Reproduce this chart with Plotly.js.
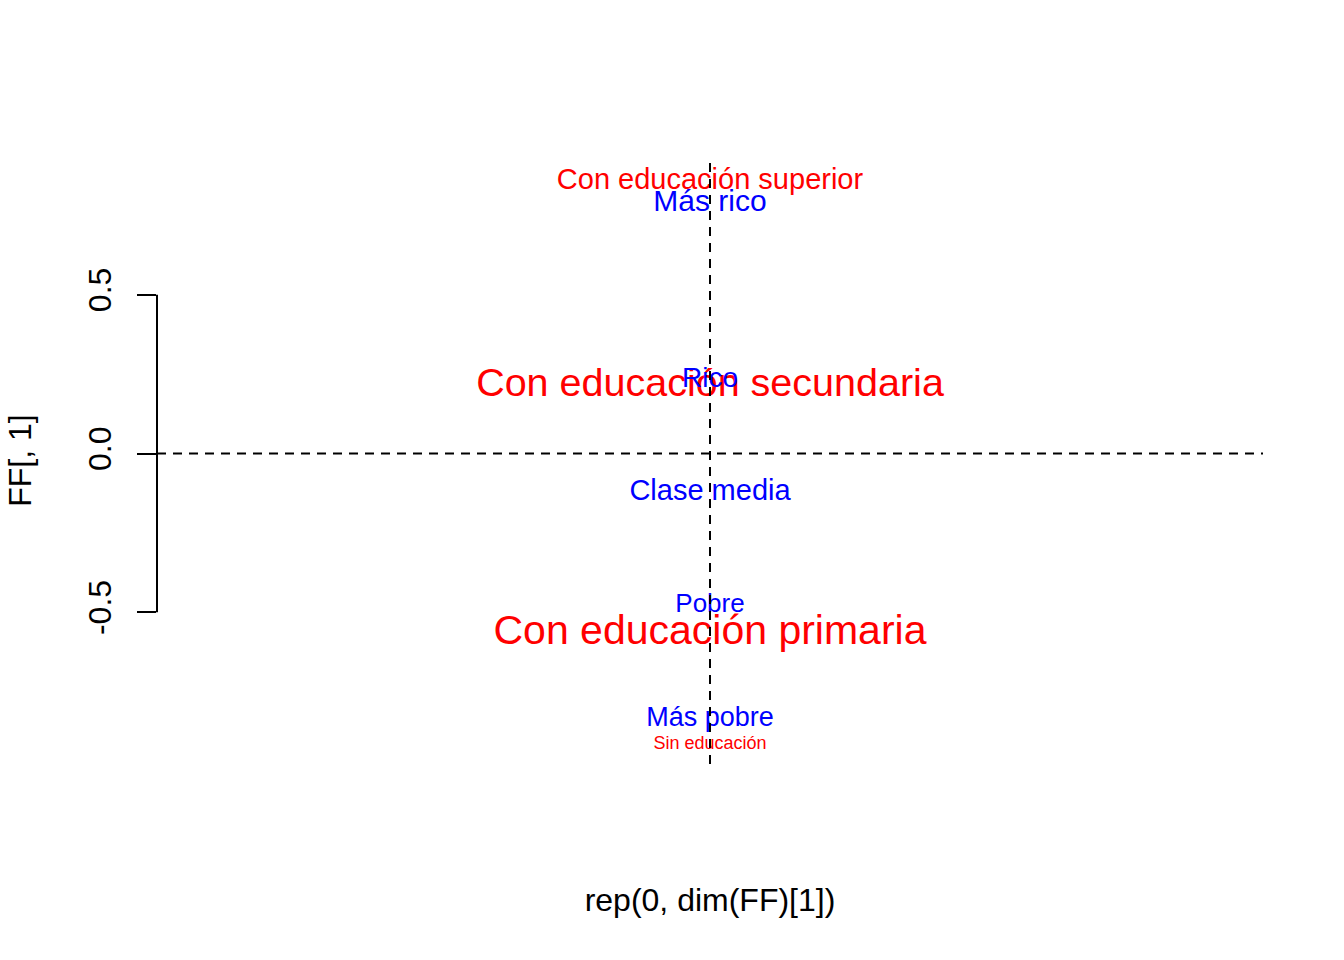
<!DOCTYPE html>
<html>
<head>
<meta charset="utf-8">
<script src="https://cdn.plot.ly/plotly-3.0.1.min.js"></script>
<style>
  html, body { margin: 0; padding: 0; background: #ffffff; }
  #chart { width: 1344px; height: 960px; }
</style>
</head>
<body>
<div id="chart"></div>
<script>
// ---- data ----
const colLabels = ["Con educación superior", "Con educación secundaria", "Con educación primaria", "Sin educación"];
const colY = [0.855, 0.211, -0.566, -0.917];
const rowLabels = ["Más rico", "Rico", "Clase media", "Pobre", "Más pobre"];
const rowY = [0.786, 0.233, -0.124, -0.480, -0.838];
const tickVals = [-0.5, 0, 0.5];
const tickText = ["-0.5", "0.0", "0.5"];
const xTitle = "rep(0, dim(FF)[1])";
const yTitle = "FF[, 1]";

// ---- styles ----
const FONT = "Liberation Sans, Arial, Helvetica, sans-serif";
const colSizes = [29, 39.5, 41, 18];
const rowSizes = [30, 28, 29, 26, 27];

const colX = colLabels.map(() => 0);
const rowX = rowLabels.map(() => 0);

const traces = [
  {
    type: "scatter", mode: "text",
    x: colX, y: colY, text: colLabels,
    textposition: "middle center",
    textfont: { family: FONT, color: "#ff0000", size: colSizes },
    hoverinfo: "skip", showlegend: false, cliponaxis: false
  },
  {
    type: "scatter", mode: "text",
    x: rowX, y: rowY, text: rowLabels,
    textposition: "middle center",
    textfont: { family: FONT, color: "#0000ff", size: rowSizes },
    hoverinfo: "skip", showlegend: false, cliponaxis: false
  }
];

const dashStyle = { color: "#000000", width: 2, dash: "9px,7px" };

const layout = {
  width: 1344, height: 960,
  margin: { l: 157, r: 81, t: 157, b: 196, pad: 0 },
  paper_bgcolor: "#ffffff", plot_bgcolor: "#ffffff",
  font: { family: FONT, color: "#000000", size: 32 },
  showlegend: false,
  xaxis: {
    range: [-1, 1], showgrid: false, zeroline: false, showline: false,
    showticklabels: false, ticks: "", fixedrange: true,
    title: { text: xTitle, font: { family: FONT, size: 32, color: "#000000" }, standoff: 124 }
  },
  yaxis: {
    range: [-0.9777, 0.9336], showgrid: false, zeroline: false, showline: false,
    tickmode: "array", tickvals: tickVals, ticktext: tickText,
    ticks: "outside", ticklen: 19, tickwidth: 2, tickcolor: "#000000",
    tickangle: -90, ticklabelstandoff: 13,
    tickfont: { family: FONT, size: 32, color: "#000000" },
    fixedrange: true,
    title: { text: yTitle, font: { family: FONT, size: 32, color: "#000000" }, standoff: 41 }
  },
  shapes: [
    { type: "line", xref: "paper", yref: "y", x0: 0, x1: 0,
      y0: Math.min(...tickVals), y1: Math.max(...tickVals),
      line: { color: "#000000", width: 2 } },
    { type: "line", xref: "paper", yref: "y", x0: 0, x1: 1, y0: 0, y1: 0, line: dashStyle, layer: "above" },
    { type: "line", xref: "x", yref: "paper", x0: 0, x1: 0, y0: 0, y1: 0.99, line: dashStyle, layer: "above" }
  ]
};

Plotly.newPlot("chart", traces, layout, { displayModeBar: false, staticPlot: true });
</script>
</body>
</html>
